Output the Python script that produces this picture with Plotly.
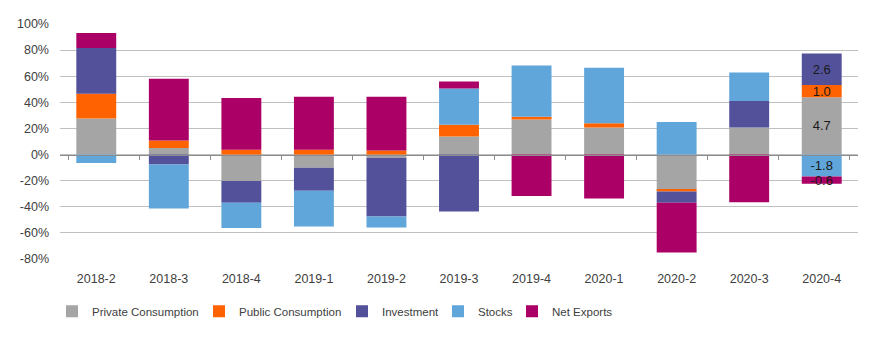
import plotly.graph_objects as go

quarters = ["2018-2", "2018-3", "2018-4", "2019-1", "2019-2", "2019-3",
            "2019-4", "2020-1", "2020-2", "2020-3", "2020-4"]

# contribution shares (% of total absolute contributions)
private_consumption = [27.6, 5.1, -20.2, -10.2, -2.5, 13.8, 26.8, 20.7, -26.8, 20.7, 43.9]
public_consumption = [18.9, 5.6, 3.6, 3.6, 3.1, 9.0, 2.1, 3.3, -1.5, 0.0, 9.3]
investment = [35.2, -7.7, -16.8, -17.6, -45.0, -43.7, 0.0, 0.0, -8.7, 20.4, 24.3]
stocks = [-6.4, -33.7, -19.3, -27.4, -8.4, 27.8, 39.3, 42.4, 25.0, 21.7, -16.8]
net_exports = [11.5, 47.3, 39.8, 40.6, 41.2, 5.3, -31.7, -33.7, -38.1, -36.5, -5.6]

# data labels shown on the last bar (absolute contributions)
private_labels = [""] * 10 + ["4.7"]
public_labels = [""] * 10 + ["1.0"]
investment_labels = [""] * 10 + ["2.6"]
stocks_labels = [""] * 10 + ["-1.8"]
net_exports_labels = [""] * 10 + ["-0.6"]

series = [
    ("Private Consumption", private_consumption, private_labels, "#A5A5A5", "legend"),
    ("Public Consumption", public_consumption, public_labels, "#FF6200", "legend2"),
    ("Investment", investment, investment_labels, "#525199", "legend3"),
    ("Stocks", stocks, stocks_labels, "#60A6DA", "legend4"),
    ("Net Exports", net_exports, net_exports_labels, "#AB0066", "legend5"),
]

y_min, y_max = -80, 100
tick_vals = list(range(-80, 101, 20))
tick_text = [f"{v}%" for v in tick_vals]

text_color = "#404040"
tick_font = dict(family="Liberation Sans, Arial, sans-serif", size=12.5, color=text_color)
legend_font = dict(family="Liberation Sans, Arial, sans-serif", size=11.5, color=text_color)

fig = go.Figure()
for name, vals, labels, color, leg in series:
    fig.add_trace(go.Bar(
        x=quarters, y=vals, name=name,
        marker=dict(color=color, line=dict(width=0)),
        text=labels, textposition="inside", insidetextanchor="middle",
        constraintext="none", cliponaxis=False,
        textfont=dict(family="Liberation Sans, Arial, sans-serif", size=13, color="#1a1a1a"),
        legend=leg, hoverinfo="x+y+name",
    ))

# invisible helper trace so the zero-crossing category axis has its categories
fig.add_trace(go.Scatter(
    x=quarters, y=[0] * len(quarters), xaxis="x2", yaxis="y",
    mode="markers", marker=dict(opacity=0), showlegend=False, hoverinfo="skip",
))

plot_left, plot_right = 60, 858
plot_w = plot_right - plot_left


def lx(px):
    return (px - plot_left) / plot_w


legend_common = dict(orientation="h", yanchor="middle", y=-0.222, xanchor="left",
                     font=legend_font, bgcolor="rgba(0,0,0,0)", itemwidth=30)

fig.update_layout(
    width=881, height=344,
    margin=dict(l=plot_left, r=881 - plot_right, t=24, b=85),
    paper_bgcolor="white", plot_bgcolor="white",
    barmode="relative", bargap=0.45,
    xaxis=dict(
        type="category", showgrid=False, showline=False, zeroline=False,
        ticks="", tickfont=tick_font, ticklabelstandoff=10,
    ),
    xaxis2=dict(
        type="category", overlaying="x", anchor="free",
        position=(0 - y_min) / (y_max - y_min), side="bottom",
        showline=True, linecolor="#8C8C8C", linewidth=1,
        ticks="outside", ticklen=4, tickcolor="#8C8C8C", tickwidth=1,
        tickson="boundaries", showticklabels=False, showgrid=False, zeroline=False,
    ),
    yaxis=dict(
        range=[y_min, y_max], tickvals=tick_vals, ticktext=tick_text,
        showgrid=True, gridcolor="#C0C0C0", gridwidth=1,
        zeroline=False, showline=False, ticks="", tickfont=tick_font,
        ticklabelstandoff=10,
    ),
    legend=dict(legend_common, x=lx(92 - 40)),
    legend2=dict(legend_common, x=lx(239 - 40)),
    legend3=dict(legend_common, x=lx(382 - 40)),
    legend4=dict(legend_common, x=lx(478 - 40)),
    legend5=dict(legend_common, x=lx(552 - 40)),
    showlegend=True,
)

fig.write_html("out.html")
